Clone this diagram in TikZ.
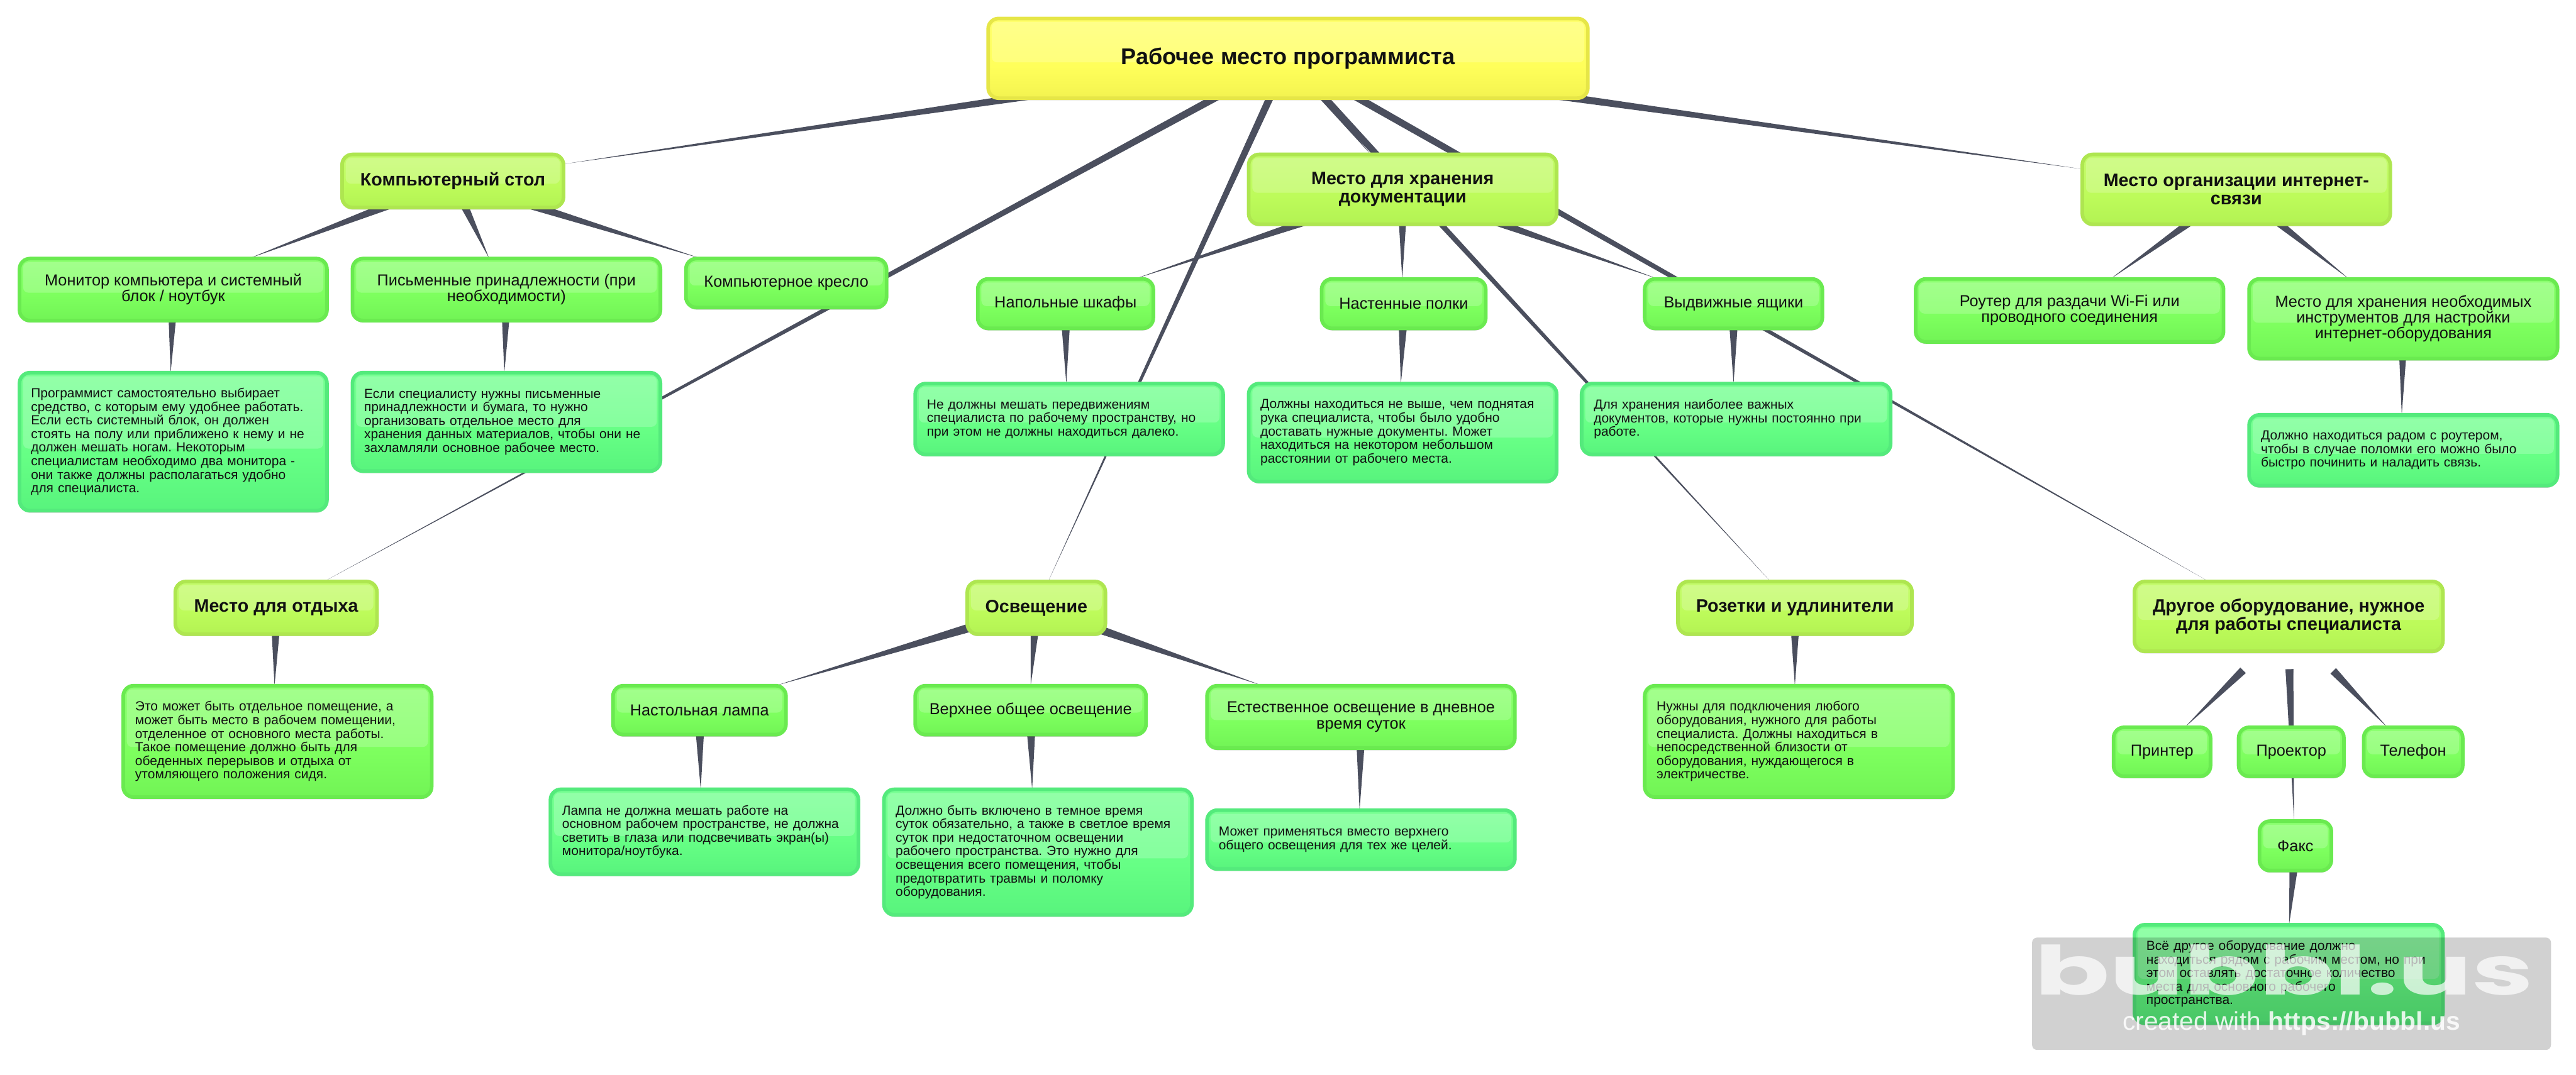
\documentclass[tikz,border=0pt]{standalone}
\usepackage{xcolor}
\usepackage{fontspec}
\usepackage{tikz}
\usetikzlibrary{calc,backgrounds,shadows}
\setmainfont{Liberation Sans}
\newfontfamily\logofont{Poppins}
\frenchspacing

\definecolor{linkcol}{HTML}{4B4F5E}
\definecolor{inkcol}{HTML}{111111}
\definecolor{rootline}{HTML}{E6E648}
\definecolor{topicline}{HTML}{AEE650}
\definecolor{itemline}{HTML}{6AEA50}
\definecolor{noteline}{HTML}{54EA7C}
\definecolor{rootlow}{HTML}{E4E444}
\definecolor{roothigh}{HTML}{FFFF5A}
\definecolor{topiclow}{HTML}{A6E84B}
\definecolor{topichigh}{HTML}{BDFB5A}
\definecolor{itemlow}{HTML}{63E64B}
\definecolor{itemhigh}{HTML}{7DFF5E}
\definecolor{notelow}{HTML}{47E673}
\definecolor{notehigh}{HTML}{66FF85}
\colorlet{rootpeak}{roothigh!78!white}
\colorlet{topicpeak}{topichigh!78!white}
\colorlet{itempeak}{itemhigh!78!white}
\colorlet{notepeak}{notehigh!78!white}

\pgfdeclareverticalshading{rootshade}{100bp}{color(0bp)=(rootlow); color(45bp)=(roothigh); color(100bp)=(rootpeak)}
\pgfdeclareverticalshading{topicshade}{100bp}{color(0bp)=(topiclow); color(45bp)=(topichigh); color(100bp)=(topicpeak)}
\pgfdeclareverticalshading{itemshade}{100bp}{color(0bp)=(itemlow); color(45bp)=(itemhigh); color(100bp)=(itempeak)}
\pgfdeclareverticalshading{noteshade}{100bp}{color(0bp)=(notelow); color(45bp)=(notehigh); color(100bp)=(notepeak)}

\newcommand{\glosspatch}{\fill[white, opacity=.2, rounded corners=.1cm]
    ([xshift=.07cm,yshift=-.07cm]path picture bounding box.north west) rectangle
    ([xshift=-.07cm]$(path picture bounding box.north east)!.55!(path picture bounding box.south east)$);}
\newcommand{\taper}[3][1.1mm]{\fill[linkcol] ($(#2.center)!#1!90:(#3.center)$) -- ($(#2.center)!#1!-90:(#3.center)$) -- (#3) -- cycle;}

\tikzset{
    size/.style 2 args={minimum width=#1cm-.07cm, minimum height=#2cm-.07cm},
    bubble/.style={rectangle, rounded corners=.2cm, line width=.07cm, inner sep=0pt, outer sep=0pt, align=center, text=inkcol,
        drop shadow={shadow xshift=0cm, shadow yshift=-.04cm, opacity=.2, fill=black}, path picture={\glosspatch}},
    rootbox/.style={bubble, draw=rootline, shading=rootshade, font=\bfseries\fontsize{12.4}{13}\selectfont},
    topicbox/.style={bubble, draw=topicline, shading=topicshade, font=\bfseries\fontsize{9.85}{10.2}\selectfont},
    itembox/.style={bubble, draw=itemline, shading=itemshade, font=\fontsize{8.7}{8.6}\selectfont},
    notebox/.style={bubble, draw=noteline, shading=noteshade, align=left, text width=5.46cm, font=\fontsize{7.2}{7.4}\selectfont},
    greennote/.style={bubble, draw=itemline, shading=itemshade, align=left, text width=5.46cm, font=\fontsize{7.2}{7.4}\selectfont}
}

\begin{document}
\begin{tikzpicture}[y=-1cm]
    \useasboundingbox (0,0) rectangle (49.44,20.64);

    \node[rootbox, size={11.58}{1.60}] (root) at (24.72,1.12) {Рабочее место программиста};

    \node[topicbox, size={4.32}{1.09}] (desk) at (8.69,3.475) {Компьютерный стол};
    \node[itembox, size={5.97}{1.26}] (mon) at (3.325,5.56) {Монитор компьютера и системный\\блок / ноутбук};
    \node[itembox, size={5.98}{1.26}] (pens) at (9.72,5.56) {Письменные принадлежности (при\\необходимости)};
    \node[itembox, size={3.92}{1.01}] (chair) at (15.09,5.435) {Компьютерное кресло};
    \node[notebox, size={5.97}{2.72}] (mondesc) at (3.325,8.48) {Программист самостоятельно выбирает\\средство, с которым ему удобнее работать.\\Если есть системный блок, он должен\\стоять на полу или приближено к нему и не\\должен мешать ногам. Некоторым\\специалистам необходимо два монитора -\\они также должны располагаться удобно\\для специалиста.};
    \node[notebox, size={5.98}{1.96}] (pendesc) at (9.72,8.10) {Если специалисту нужны письменные\\принадлежности и бумага, то нужно\\организовать отдельное место для\\хранения данных материалов, чтобы они не\\захламляли основное рабочее место.};

    \node[topicbox, size={5.98}{1.41}] (store) at (26.92,3.635) {Место для хранения\\документации};
    \node[itembox, size={3.44}{1.02}] (floor) at (20.45,5.83) {Напольные шкафы};
    \node[itembox, size={3.22}{1.02}] (wall) at (26.94,5.83) {Настенные полки};
    \node[itembox, size={3.48}{1.02}] (drawer) at (33.27,5.83) {Выдвижные ящики};
    \node[notebox, size={5.98}{1.43}] (floordesc) at (20.52,8.045) {Не должны мешать передвижениям\\специалиста по рабочему пространству, но\\при этом не должны находиться далеко.};
    \node[notebox, size={5.98}{1.95}] (walldesc) at (26.92,8.305) {Должны находиться не выше, чем поднятая\\рука специалиста, чтобы было удобно\\доставать нужные документы. Может\\находиться на некотором небольшом\\расстоянии от рабочего места.};
    \node[notebox, size={6.00}{1.43}] (drawerdesc) at (33.32,8.045) {Для хранения наиболее важных\\документов, которые нужны постоянно при\\работе.};

    \node[topicbox, size={5.98}{1.41}] (net) at (42.92,3.635) {Место организации интернет-\\связи};
    \node[itembox, size={5.98}{1.28}] (router) at (39.72,5.96) {Роутер для раздачи Wi-Fi или\\проводного соединения};
    \node[itembox, size={5.99}{1.60}] (tools) at (46.125,6.12) {Место для хранения необходимых\\инструментов для настройки\\интернет-оборудования};
    \node[notebox, size={5.99}{1.43}] (toolsdesc) at (46.125,8.645) {Должно находиться радом с роутером,\\чтобы в случае поломки его можно было\\быстро починить и наладить связь.};

    \node[topicbox, size={3.94}{1.08}] (rest) at (5.30,11.67) {Место для отдыха};
    \node[greennote, size={5.99}{2.21}] (restdesc) at (5.325,14.235) {Это может быть отдельное помещение, а\\может быть место в рабочем помещении,\\отделенное от основного места работы.\\Такое помещение должно быть для\\обеденных перерывов и отдыха от\\утомляющего положения сидя.};

    \node[topicbox, size={2.72}{1.08}] (light) at (19.89,11.67) {Освещение};
    \node[itembox, size={3.39}{1.01}] (lamp) at (13.425,13.635) {Настольная лампа};
    \node[itembox, size={4.50}{1.01}] (ceil) at (19.78,13.635) {Верхнее общее освещение};
    \node[itembox, size={5.98}{1.27}] (day) at (26.12,13.765) {Естественное освещение в дневное\\время суток};
    \node[notebox, size={5.98}{1.70}] (lampdesc) at (13.52,15.97) {Лампа не должна мешать работе на\\основном рабочем пространстве, не должна\\светить в глаза или подсвечивать экран(ы)\\монитора/ноутбука.};
    \node[notebox, size={5.98}{2.48}] (ceildesc) at (19.92,16.36) {Должно быть включено в темное время\\суток обязательно, а также в светлое время\\суток при недостаточном освещении\\рабочего пространства. Это нужно для\\освещения всего помещения, чтобы\\предотвратить травмы и поломку\\оборудования.};
    \node[notebox, size={5.98}{1.20}] (daydesc) at (26.12,16.12) {Может применяться вместо верхнего\\общего освещения для тех же целей.};

    \node[topicbox, size={4.56}{1.08}] (sockets) at (34.45,11.67) {Розетки и удлинители};
    \node[greennote, size={5.99}{2.21}] (socketsdesc) at (34.525,14.235) {Нужны для подключения любого\\оборудования, нужного для работы\\специалиста. Должны находиться в\\непосредственной близости от\\оборудования, нуждающегося в\\электричестве.};

    \node[topicbox, size={5.99}{1.41}] (other) at (43.925,11.835) {Другое оборудование, нужное\\для работы специалиста};
    \node[itembox, size={1.93}{1.01}] (printer) at (41.495,14.435) {Принтер};
    \node[itembox, size={2.09}{1.01}] (proj) at (43.975,14.435) {Проектор};
    \node[itembox, size={1.97}{1.01}] (phone) at (46.315,14.435) {Телефон};
    \node[itembox, size={1.45}{1.02}] (fax) at (44.055,16.24) {Факс};
    \node[notebox, size={5.99}{1.96}] (otherdesc) at (43.925,18.70) {Всё другое оборудование должно\\находиться рядом с рабочим местом, но при\\этом оставлять достаточное количество\\места для основного рабочего\\пространства.};

    \coordinate (otherport) at (42.33,11.13);
    \coordinate (otherl) at (43.05,12.87);
    \coordinate (otherm) at (43.94,12.85);
    \coordinate (otherr) at (44.78,12.88);

    \begin{scope}[on background layer]
        \foreach \kid in {desk, net} \taper{root}{\kid};
        \foreach \kid in {rest, light, store, sockets, otherport} \taper[.75mm]{root}{\kid};
        \foreach \kid in {mon, pens, chair} \taper{desk}{\kid};
        \foreach \kid in {floor, wall, drawer} \taper{store}{\kid};
        \foreach \kid in {router, tools} \taper{net}{\kid};
        \foreach \kid in {lamp, ceil, day} \taper{light}{\kid};
        \foreach \up/\down in {mon/mondesc, pens/pendesc, floor/floordesc, wall/walldesc, drawer/drawerdesc, tools/toolsdesc,
            rest/restdesc, lamp/lampdesc, ceil/ceildesc, day/daydesc, sockets/socketsdesc, fax/otherdesc} \taper{\up}{\down};
        \foreach \up/\down in {otherl/printer, otherm/proj, otherm/fax, otherr/phone} \taper[.75mm]{\up}{\down};
    \end{scope}

    \fill[black, opacity=.18, rounded corners=.1cm] (39.00,18.00) rectangle (48.96,20.16);
    \node[text=white, opacity=.7, xscale=1.63, transform shape, font=\logofont\bfseries\fontsize{37}{37}\selectfont] (logo) at (43.84,18.62) {bubbl.us};
    \node[text=white, opacity=.85, font=\fontsize{14}{15}\selectfont] (credit) at (43.98,19.65) {created with \textbf{https://bubbl.us}};
\end{tikzpicture}
\end{document}
